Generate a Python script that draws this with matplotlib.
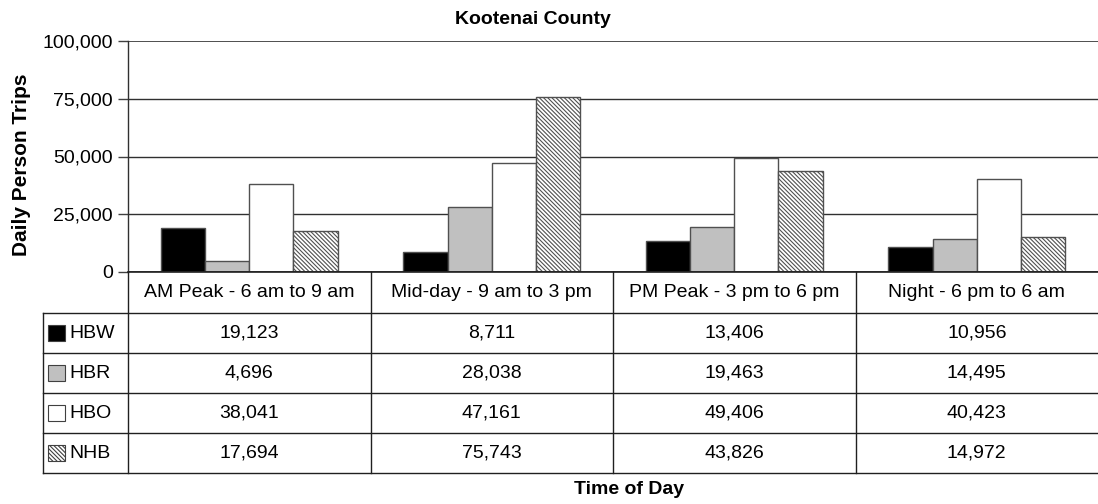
import matplotlib
matplotlib.use('Agg')
import matplotlib.pyplot as plt
from matplotlib.patches import Rectangle
import numpy as np

plt.rcParams['font.family'] = ['Liberation Sans', 'DejaVu Sans']
plt.rcParams['hatch.linewidth'] = 0.8

periods = ['AM Peak - 6 am to 9 am', 'Mid-day - 9 am to 3 pm',
           'PM Peak - 3 pm to 6 pm', 'Night - 6 pm to 6 am']
purposes = ['HBW', 'HBR', 'HBO', 'NHB']
hbw = [19123, 8711, 13406, 10956]
hbr = [4696, 28038, 19463, 14495]
hbo = [38041, 47161, 49406, 40423]
nhb = [17694, 75743, 43826, 14972]
yticks = [0, 25000, 50000, 75000, 100000]

series = [hbw, hbr, hbo, nhb]
faces = ['black', '#c0c0c0', 'white', 'white']
hatches = [None, None, None, '\\' * 8]

W, H = 1098, 504
fig = plt.figure(figsize=(W / 100, H / 100), dpi=100)

# main bar axes (pixel geometry)
ax_l, ax_r, ax_t, ax_b = 128, 1098, 41, 272
ax = fig.add_axes([ax_l / W, 1 - ax_b / H, (ax_r - ax_l) / W, (ax_b - ax_t) / H])

x = np.arange(len(periods))
bw = 0.182
for i, vals in enumerate(series):
    ax.bar(x + (i - 1.5) * bw, vals, width=bw, color=faces[i], edgecolor='#505050',
           linewidth=1.0, hatch=hatches[i], zorder=3)

ax.set_xlim(-0.5, len(periods) - 0.5)
ax.set_ylim(0, 100000)
ax.set_yticks(yticks)
ax.set_yticklabels(['{:,}'.format(v) for v in yticks], fontsize=14)
ax.tick_params(axis='y', direction='out', length=7, width=1, color='#404040', pad=4)
ax.set_xticks([])
for v in yticks[1:]:
    ax.axhline(v, color='#303030', lw=1.2 if v == 100000 else 1.0, zorder=1)
for s in ['top', 'right', 'bottom']:
    ax.spines[s].set_visible(False)
ax.spines['left'].set_color('#303030')
ax.spines['left'].set_linewidth(1.0)
ax.axhline(0, color='#303030', lw=1.2, zorder=4)

fig.text(533 / W, 1 - 20 / H, 'Kootenai County', fontsize=14, fontweight='bold',
         ha='center', va='center')
fig.text(22 / W, 1 - 165 / H, 'Daily Person Trips', rotation=90, fontsize=15,
         fontweight='bold', ha='center', va='center')

# data table below the chart
t_l, t_t, t_b = 43, 272, 473
cat_w = (ax_r - ax_l) / len(periods)
left_ext = (ax_l - t_l) / cat_w
tax = fig.add_axes([t_l / W, 1 - t_b / H, (ax_r - t_l) / W, (t_b - t_t) / H])
tax.set_xlim(-0.5 - left_ext, len(periods) - 0.5)
row_h = [41, 40, 40, 40, 40]
edges = np.concatenate([[0], np.cumsum(row_h)])
tax.set_ylim(edges[-1], 0)
tax.axis('off')

lc = '#202020'
# horizontal lines
tax.plot([-0.5, len(periods) - 0.5], [edges[0], edges[0]], color=lc, lw=1.2, clip_on=False)
for e in edges[1:]:
    tax.plot([-0.5 - left_ext, len(periods) - 0.5], [e, e], color=lc, lw=1.0, clip_on=False)
# vertical lines
tax.plot([-0.5 - left_ext] * 2, [edges[1], edges[-1]], color=lc, lw=1.0, clip_on=False)
for k in range(len(periods)):
    tax.plot([k - 0.5] * 2, [edges[0], edges[-1]], color=lc, lw=1.0, clip_on=False)

for k, p in enumerate(periods):
    tax.text(k, (edges[0] + edges[1]) / 2, p, ha='center', va='center', fontsize=14)
for r, (name, vals) in enumerate(zip(purposes, series)):
    yc = (edges[r + 1] + edges[r + 2]) / 2
    for k, v in enumerate(vals):
        tax.text(k, yc, '{:,}'.format(v), ha='center', va='center', fontsize=14)
    # legend key
    sx = -0.5 - left_ext + 5 / cat_w
    sw = 17 / cat_w
    tax.add_patch(Rectangle((sx, yc - 8), sw, 16, facecolor=faces[r], edgecolor='#404040',
                            lw=0.8, hatch=hatches[r], clip_on=False))
    tax.text(sx + sw + 4 / cat_w, yc, name, ha='left', va='center', fontsize=14)

fig.text(629 / W, 1 - 490 / H, 'Time of Day', fontsize=14,
         fontweight='bold', ha='center', va='center')

fig.savefig('out.png', dpi=100)
